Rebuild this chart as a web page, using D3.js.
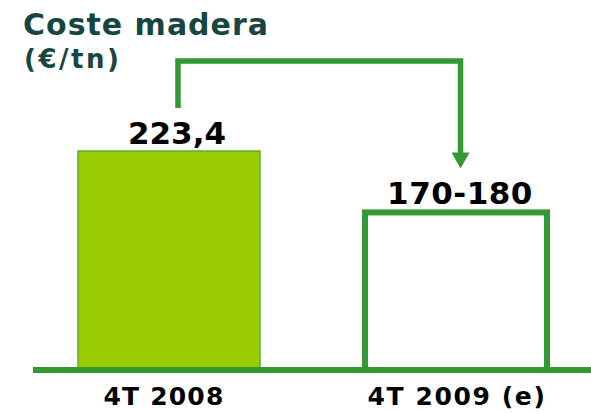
<!DOCTYPE html>
<html>
<head>
<meta charset="utf-8">
<script src="https://cdn.jsdelivr.net/npm/d3@7"></script>
<style>
  body { margin: 0; background: #fff; }
  text { font-family: "DejaVu Sans", Verdana, sans-serif; font-weight: bold; }
</style>
</head>
<body>
<div id="chart"></div>
<script>
// data
const categories = ["4T 2008", "4T 2009 (e)"];
const values = [223.4, 170];
const valueLabels = ["223,4", "170-180"];

const width = 591, height = 414;
const baseY = 370;
const green = "#339933";

const svg = d3.select("#chart")
    .append("svg")
    .attr("width", width)
    .attr("height", height);

// scales
const xScale = d3.scaleBand()
    .domain(categories)
    .range([78, 547])
    .paddingInner(0.366)
    .paddingOuter(0);

const yScale = d3.scaleLinear()
    .domain([33, 223.4])
    .range([baseY, 151]);

// title
svg.append("text")
    .attr("x", 23)
    .attr("y", 35)
    .attr("font-size", 30)
    .attr("letter-spacing", 1)
    .attr("fill", "#174540")
    .text("Coste madera");

svg.append("text")
    .attr("x", 24)
    .attr("y", 68)
    .attr("font-size", 26)
    .attr("letter-spacing", 2.5)
    .attr("fill", "#174540")
    .text("(€/tn)");

// first bar: filled
svg.append("rect")
    .attr("x", xScale(categories[0]))
    .attr("y", yScale(values[0]))
    .attr("width", xScale.bandwidth())
    .attr("height", baseY - yScale(values[0]))
    .attr("fill", "#99cc00")
    .attr("stroke", "#5fae2a")
    .attr("stroke-width", 1.5);

// second bar: outline only (estimate)
svg.append("rect")
    .attr("x", xScale(categories[1]))
    .attr("y", yScale(values[1]))
    .attr("width", xScale.bandwidth())
    .attr("height", baseY - yScale(values[1]))
    .attr("fill", "#fff")
    .attr("stroke", green)
    .attr("stroke-width", 6);

// baseline
svg.append("line")
    .attr("x1", 33)
    .attr("x2", width)
    .attr("y1", baseY)
    .attr("y2", baseY)
    .attr("stroke", green)
    .attr("stroke-width", 6);

// value labels
svg.selectAll(".val")
    .data(values)
    .join("text")
    .attr("class", "val")
    .attr("x", (d, i) => xScale(categories[i]) + xScale.bandwidth() / 2 + (i === 0 ? 8 : 4))
    .attr("y", (d, i) => yScale(d) - (i === 0 ? 7 : 8))
    .attr("text-anchor", "middle")
    .attr("font-size", 31)
    .attr("letter-spacing", (d, i) => i === 0 ? 0 : 0.5)
    .attr("fill", "#000")
    .text((d, i) => valueLabels[i]);

// category labels
svg.selectAll(".cat")
    .data(categories)
    .join("text")
    .attr("class", "cat")
    .attr("x", (d, i) => xScale(d) + xScale.bandwidth() / 2 + (i === 0 ? -5 : 1))
    .attr("y", 405)
    .attr("text-anchor", "middle")
    .attr("font-size", 25)
    .attr("letter-spacing", (d, i) => i === 0 ? 1.2 : 1.6)
    .attr("fill", "#000")
    .text(d => d);

// connector arrow from first to second bar
const ax1 = xScale(categories[0]) + xScale.bandwidth() / 2 + 9;
const ax2 = xScale(categories[1]) + xScale.bandwidth() / 2 + 4.5;
const topY = 61;
const startY = yScale(values[0]) - 43;
const tipY = yScale(values[1]) - 44;

svg.append("path")
    .attr("d", `M${ax1},${startY} V${topY} H${ax2} V${tipY - 15}`)
    .attr("fill", "none")
    .attr("stroke", green)
    .attr("stroke-width", 5.5);

svg.append("path")
    .attr("d", `M${ax2 - 9},${tipY - 16} L${ax2 + 9},${tipY - 16} L${ax2},${tipY} Z`)
    .attr("fill", green);
</script>
</body>
</html>
